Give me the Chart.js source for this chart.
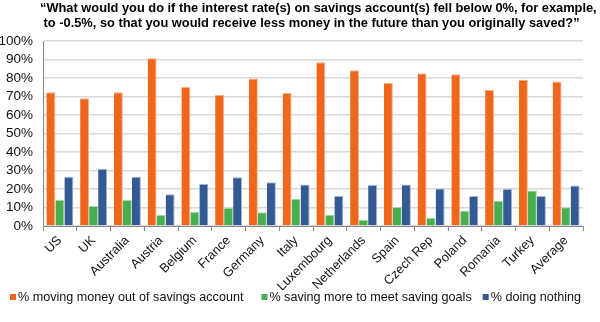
<!DOCTYPE html>
<html>
<head>
<meta charset="utf-8">
<script src="https://cdn.jsdelivr.net/npm/chart.js@4/dist/chart.umd.min.js"></script>
<style>
  html, body { margin: 0; padding: 0; background: #ffffff; }
  canvas { display: block; }
</style>
</head>
<body>
<canvas id="chart" width="600" height="322"></canvas>
<script>
// Survey question shown above the chart
const titleLines = [
  '\u201cWhat would you do if the interest rate(s) on savings account(s) fell below 0%, for example,',
  ' to -0.5%, so that you would receive less money in the future than you originally saved?\u201d'
];

const countries = ['US', 'UK', 'Australia', 'Austria', 'Belgium', 'France', 'Germany', 'Italy',
  'Luxembourg', 'Netherlands', 'Spain', 'Czech Rep', 'Poland', 'Romania', 'Turkey', 'Average'];

const seriesNames = [
  '% moving money out of savings account',
  '% saving more to meet saving goals',
  '% doing nothing'
];

const movingMoney = [72.3, 69.1, 72.3, 90.7, 75.3, 70.9, 79.7, 71.9, 88.5, 84.2, 77.3, 82.6, 82.0, 73.6, 79.0, 78.1];
const savingMore  = [14.2, 10.8, 14.2, 6.1, 7.7, 9.9, 7.5, 14.7, 6.1, 3.4, 10.3, 4.3, 8.3, 13.5, 19.2, 10.1];
const doingNothing = [26.6, 30.9, 26.6, 17.1, 22.7, 26.4, 23.7, 22.5, 16.2, 22.1, 22.5, 20.3, 16.2, 20.0, 16.2, 21.9];

const yTicks = [0, 10, 20, 30, 40, 50, 60, 70, 80, 90, 100];

const FONT = '"Liberation Sans", Arial, sans-serif';

// Two-line bold question; the font size is chosen so the first line spans the page
const titlePlugin = {
  id: 'questionTitle',
  afterDraw(chart) {
    const ctx = chart.ctx;
    ctx.save();
    ctx.fillStyle = '#000000';
    ctx.font = 'bold 12.5px ' + FONT;
    const w = ctx.measureText(titleLines[0]).width;
    const size = 12.5 * 557 / w;
    ctx.font = 'bold ' + size.toFixed(2) + 'px ' + FONT;
    ctx.textAlign = 'left';
    ctx.textBaseline = 'alphabetic';
    ctx.fillText(titleLines[0], 40, 12);
    ctx.fillText(titleLines[1], 40, 27);
    ctx.restore();
  }
};

// Legend row along the bottom: small square swatch followed by the series name
const legendGaps = [18, 11];
const legendPlugin = {
  id: 'bottomLegend',
  afterDraw(chart) {
    const ctx = chart.ctx;
    ctx.save();
    ctx.font = '12.6px ' + FONT;
    ctx.textBaseline = 'middle';
    ctx.textAlign = 'left';
    const cy = 297;
    let x = 10;
    chart.data.datasets.forEach((ds, i) => {
      ctx.fillStyle = ds.backgroundColor;
      ctx.fillRect(x, cy - 3, 6, 6);
      ctx.fillStyle = '#111111';
      ctx.fillText(ds.label, x + 8, cy + 0.5);
      x += 8 + ctx.measureText(ds.label).width + (legendGaps[i] || 0);
    });
    ctx.restore();
  }
};

function bar(label, data, fill, edge) {
  return {
    label: label,
    data: data,
    backgroundColor: fill,
    borderColor: edge,
    borderWidth: { top: 1, right: 1, left: 0, bottom: 0 },
    borderSkipped: false,
    categoryPercentage: 0.8,
    barPercentage: 1.0
  };
}

new Chart(document.getElementById('chart'), {
  type: 'bar',
  data: {
    labels: countries,
    datasets: [
      bar(seriesNames[0], movingMoney, '#EE671D', '#F7B48E'),
      bar(seriesNames[1], savingMore, '#48AF4E', '#A6D9A9'),
      bar(seriesNames[2], doingNothing, '#345A94', '#9FB3D3')
    ]
  },
  options: {
    responsive: false,
    animation: false,
    layout: { padding: { top: 41, right: 17, left: 0, bottom: 0 } },
    plugins: {
      title: { display: false },
      tooltip: { enabled: false },
      legend: { display: false }
    },
    scales: {
      x: {
        afterFit(scale) { scale.height = 96; },
        grid: {
          offset: true,
          drawOnChartArea: false,
          color: '#888888',
          tickLength: 5
        },
        border: { color: '#888888', width: 1 },
        ticks: {
          autoSkip: false,
          minRotation: 45,
          maxRotation: 45,
          color: '#111111',
          font: { family: FONT, size: 12.8 },
          padding: 2
        }
      },
      y: {
        min: 0,
        max: 100,
        afterFit(scale) { scale.width = 43; },
        afterBuildTicks(scale) {
          scale.ticks = yTicks.map(v => ({ value: v }));
        },
        grid: {
          color: '#D9D9D9',
          lineWidth: 1.5,
          drawTicks: false
        },
        border: { color: '#888888', width: 1 },
        ticks: {
          autoSkip: false,
          color: '#111111',
          font: { family: FONT, size: 13.5 },
          padding: 10,
          callback: v => v + '%'
        }
      }
    }
  },
  plugins: [titlePlugin, legendPlugin]
});
</script>
</body>
</html>
